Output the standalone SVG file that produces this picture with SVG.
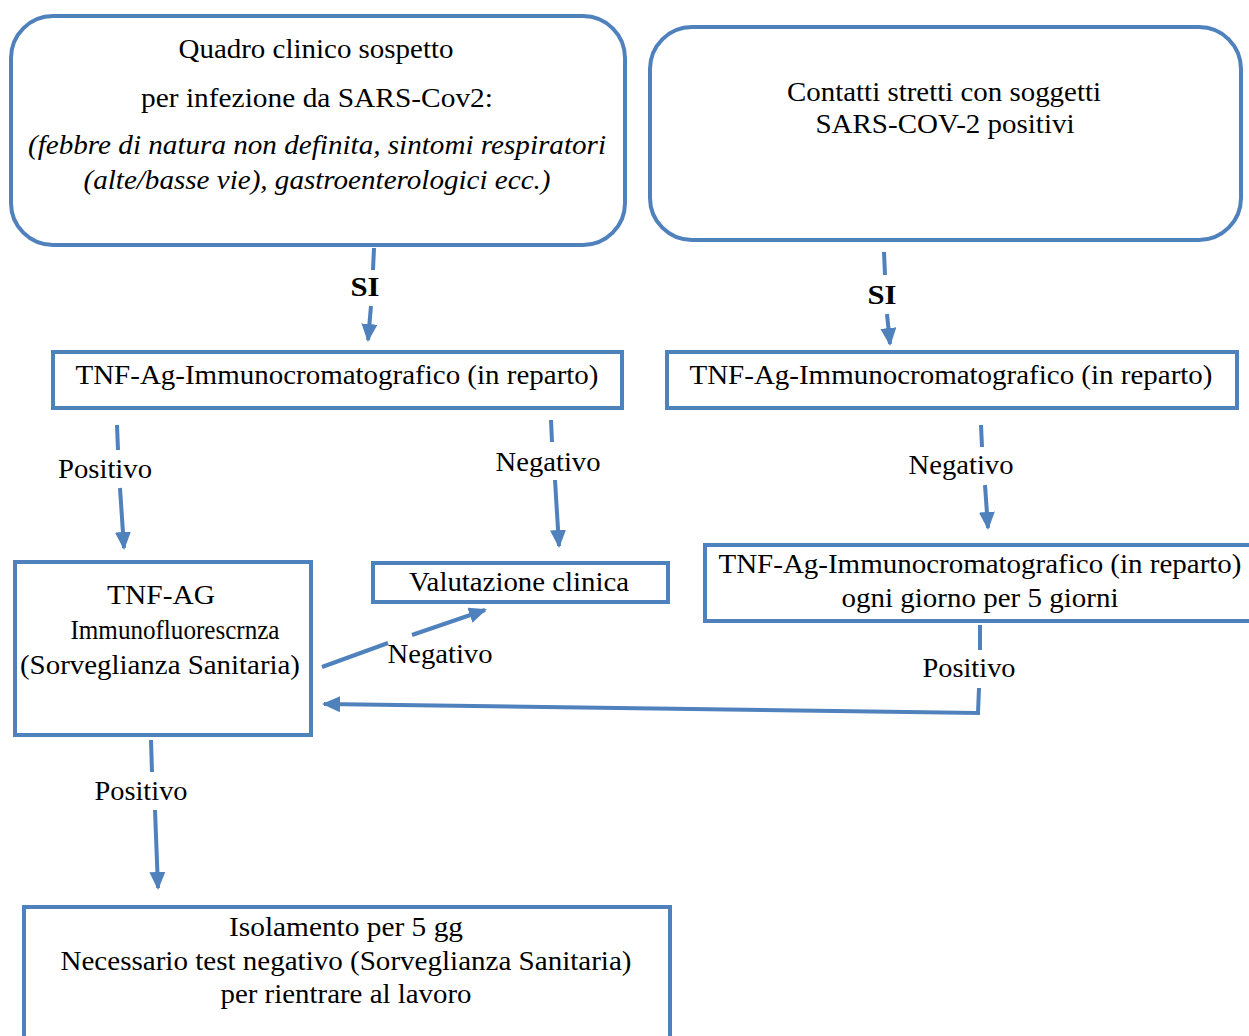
<svg xmlns="http://www.w3.org/2000/svg" width="1249" height="1036" viewBox="0 0 1249 1036">
<style>
.box{fill:#ffffff;stroke:#4f81bd;stroke-width:4}
.t{font-family:"Liberation Serif","Times New Roman",serif;font-size:28px;fill:#000;text-anchor:middle}
.i{font-style:italic}
.b{font-weight:bold}
.c{fill:none;stroke:#4f81bd;stroke-width:4}
</style>
<defs>
<marker id="ah" markerUnits="userSpaceOnUse" markerWidth="20" markerHeight="18" refX="16" refY="8" orient="auto">
<path d="M0,0 L18,8 L0,16 z" fill="#4f81bd"/>
</marker>
</defs>
<rect width="1249" height="1036" fill="#ffffff"/>

<g id="n1">
<rect class="box" x="11" y="16" width="614" height="229" rx="42"/>
<text class="t" x="316" y="58" textLength="275" lengthAdjust="spacingAndGlyphs">Quadro clinico  sospetto</text>
<text class="t" x="317" y="107" textLength="352" lengthAdjust="spacingAndGlyphs">per infezione  da SARS-Cov2:</text>
<text class="t i" x="317" y="154" textLength="578" lengthAdjust="spacingAndGlyphs">(febbre di natura non definita,  sintomi respiratori</text>
<text class="t i" x="317" y="189" textLength="467" lengthAdjust="spacingAndGlyphs">(alte/basse  vie),  gastroenterologici  ecc.)</text>
</g>

<g id="n2">
<rect class="box" x="650" y="27" width="591" height="213" rx="42"/>
<text class="t" x="944" y="101" textLength="314" lengthAdjust="spacingAndGlyphs">Contatti  stretti  con soggetti</text>
<text class="t" x="945" y="133" textLength="259" lengthAdjust="spacingAndGlyphs">SARS-COV-2 positivi</text>
</g>

<g id="n3">
<rect class="box" x="53" y="352" width="569" height="56"/>
<text class="t" x="337" y="384" textLength="523" lengthAdjust="spacingAndGlyphs">TNF-Ag-Immunocromatografico  (in reparto)</text>
</g>

<g id="n4">
<rect class="box" x="667" y="352" width="570" height="56"/>
<text class="t" x="951" y="384" textLength="523" lengthAdjust="spacingAndGlyphs">TNF-Ag-Immunocromatografico  (in reparto)</text>
</g>

<g id="n5">
<rect class="box" x="15" y="562" width="296" height="173"/>
<text class="t" x="161" y="604" textLength="108" lengthAdjust="spacingAndGlyphs">TNF-AG</text>
<text class="t" x="175" y="639" textLength="209" lengthAdjust="spacingAndGlyphs">Immunofluorescrnza</text>
<text class="t" x="160" y="674" textLength="280" lengthAdjust="spacingAndGlyphs">(Sorveglianza  Sanitaria)</text>
</g>

<g id="n6">
<rect class="box" x="373" y="563" width="295" height="39"/>
<text class="t" x="519" y="591" textLength="220" lengthAdjust="spacingAndGlyphs">Valutazione  clinica</text>
</g>

<g id="n7">
<rect class="box" x="705" y="545" width="552" height="76"/>
<text class="t" x="980" y="573" textLength="523" lengthAdjust="spacingAndGlyphs">TNF-Ag-Immunocromatografico  (in reparto)</text>
<text class="t" x="980" y="607" textLength="277" lengthAdjust="spacingAndGlyphs">ogni giorno per 5 giorni</text>
</g>

<g id="n8">
<rect class="box" x="24" y="907" width="646" height="140"/>
<text class="t" x="346" y="936" textLength="234" lengthAdjust="spacingAndGlyphs">Isolamento  per 5 gg</text>
<text class="t" x="346" y="970" textLength="571" lengthAdjust="spacingAndGlyphs">Necessario  test  negativo  (Sorveglianza  Sanitaria)</text>
<text class="t" x="346" y="1003" textLength="251" lengthAdjust="spacingAndGlyphs">per rientrare  al lavoro</text>
</g>

<g id="connectors">
<path class="c" d="M374,248 L373,270"/>
<path class="c" d="M371,306 L368,340" marker-end="url(#ah)"/>
<path class="c" d="M884,252 L885,275"/>
<path class="c" d="M887,314 L890,344" marker-end="url(#ah)"/>
<path class="c" d="M117,425 L118,450"/>
<path class="c" d="M120,488 L124,548" marker-end="url(#ah)"/>
<path class="c" d="M551,420 L552,442"/>
<path class="c" d="M555,480 L559,546" marker-end="url(#ah)"/>
<path class="c" d="M981,425 L982,447"/>
<path class="c" d="M985,485 L988,528" marker-end="url(#ah)"/>
<path class="c" d="M322,667 L388,643"/>
<path class="c" d="M412,635 L485,610" marker-end="url(#ah)"/>
<path class="c" d="M980,625 L980,650"/>
<path class="c" d="M979,688 L978,713 L324,704" marker-end="url(#ah)"/>
<path class="c" d="M151,740 L152,772"/>
<path class="c" d="M155,810 L158,888" marker-end="url(#ah)"/>
</g>

<g id="labels">
<text class="t b" x="365" y="296" textLength="29" lengthAdjust="spacingAndGlyphs">SI</text>
<text class="t b" x="882" y="304" textLength="29" lengthAdjust="spacingAndGlyphs">SI</text>
<text class="t" x="105" y="478" textLength="94" lengthAdjust="spacingAndGlyphs">Positivo</text>
<text class="t" x="548" y="471" textLength="105" lengthAdjust="spacingAndGlyphs">Negativo</text>
<text class="t" x="961" y="474" textLength="105" lengthAdjust="spacingAndGlyphs">Negativo</text>
<text class="t" x="440" y="663" textLength="105" lengthAdjust="spacingAndGlyphs">Negativo</text>
<text class="t" x="969" y="677" textLength="93" lengthAdjust="spacingAndGlyphs">Positivo</text>
<text class="t" x="141" y="800" textLength="93" lengthAdjust="spacingAndGlyphs">Positivo</text>
</g>
</svg>
